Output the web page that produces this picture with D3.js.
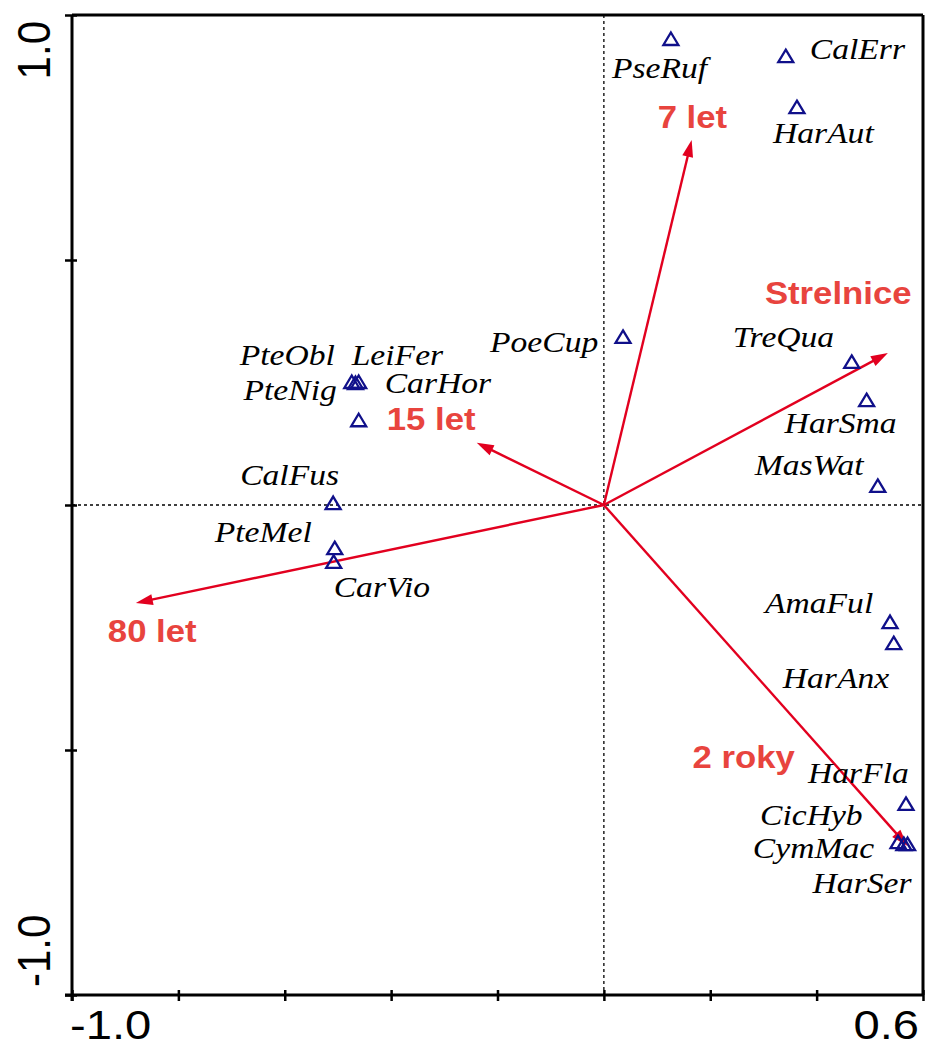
<!DOCTYPE html>
<html>
<head>
<meta charset="utf-8">
<script src="https://cdn.jsdelivr.net/npm/d3@7"></script>
<style>
  html, body { margin: 0; padding: 0; background: #fff; }
  svg { display: block; }
</style>
</head>
<body>
<svg id="chart" width="925" height="1048"></svg>
<script>
// ---- Data ----
const speciesNames = ["PseRuf","CalErr","HarAut","PoeCup","TreQua","HarSma","MasWat","AmaFul","HarAnx","HarFla","CicHyb","CymMac","HarSer","PteObl","LeiFer","PteNig","CarHor","CalFus","PteMel","CarVio"];
const speciesX = [0.126, 0.342, 0.363, 0.036, 0.466, 0.494, 0.515, 0.538, 0.545, 0.568, 0.553, 0.564, 0.571, -0.474, -0.461, -0.467, -0.461, -0.509, -0.506, -0.508];
const speciesY = [0.951, 0.916, 0.812, 0.343, 0.292, 0.214, 0.039, -0.239, -0.282, -0.610, -0.688, -0.692, -0.692, 0.251, 0.251, 0.249, 0.173, 0.004, -0.088, -0.116];

const envNames = ["7 let", "Strelnice", "15 let", "80 let", "2 roky"];
const envX = [0.165, 0.534, -0.239, -0.880, 0.571];
const envY = [0.745, 0.310, 0.127, -0.200, -0.696];

const xTicks = [-1.0, -0.8, -0.6, -0.4, -0.2, 0.0, 0.2, 0.4, 0.6];
const yTicks = [-1.0, -0.5, 0.0, 0.5, 1.0];
const xTickLabels = ["-1.0", "0.6"];
const yTickLabels = ["1.0", "-1.0"];

// ---- Layout (pixel label offsets, not data) ----
const speciesLabelDx = [-59, 24, -24, -133, -119, -82, -123, -125, -111, -98, -138, -151, -95, -112, -7, -112, 26, -93, -120, 0];
const speciesLabelDy = [39, 3, 36, 15, -15, 33, -11, -9, 45, -21, -17, 14, 49, -17, -17, 17, -27, -18, -6, 35];
const envLabelDx = [-34, -123, -90, -28, -215];
const envLabelDy = [-12, -49, -13, 39, -78];

const SX = 1.12; // horizontal stretch of the original picture

const svg = d3.select("#chart");
const x = d3.scaleLinear().domain([-1.0, 0.6]).range([72, 923]);
const y = d3.scaleLinear().domain([-1.0, 1.0]).range([995, 15]);

const navy = "#10108a";
const red = "#e2001f";
const redText = "#e8443e";

// dotted zero lines
svg.append("line").attr("x1", x(0)).attr("x2", x(0)).attr("y1", y(1)).attr("y2", y(-1))
  .attr("stroke", "#000").attr("stroke-width", 1.3).attr("stroke-dasharray", "3,3");
svg.append("line").attr("x1", x(-1)).attr("x2", x(0.6)).attr("y1", y(0)).attr("y2", y(0))
  .attr("stroke", "#000").attr("stroke-width", 1.3).attr("stroke-dasharray", "3,3");

// frame: top and right
svg.append("line").attr("x1", x(-1)).attr("x2", x(0.6)).attr("y1", y(1)).attr("y2", y(1))
  .attr("stroke", "#000").attr("stroke-width", 3);
svg.append("line").attr("x1", x(0.6)).attr("x2", x(0.6)).attr("y1", y(1)).attr("y2", y(-1))
  .attr("stroke", "#000").attr("stroke-width", 3);

// axes
const xAxis = svg.append("g").attr("transform", `translate(0,${y(-1)})`)
  .call(d3.axisBottom(x).tickValues(xTicks).tickSize(6).tickFormat(""));
xAxis.select(".domain").attr("stroke-width", 3).attr("d", `M${x(-1) - 7},0H${x(0.6)}`);
xAxis.selectAll(".tick line").attr("y1", -5).attr("y2", 6).attr("stroke-width", 2.5);

const yAxis = svg.append("g").attr("transform", `translate(${x(-1)},0)`)
  .call(d3.axisLeft(y).tickValues(yTicks).tickSize(7).tickFormat(""));
yAxis.select(".domain").attr("stroke-width", 3).attr("d", `M0,${y(1)}V${y(-1) + 6}`);
yAxis.selectAll(".tick line").attr("x1", 5).attr("x2", -7).attr("stroke-width", 2.5);

// tick labels
svg.append("text").text(xTickLabels[0])
  .attr("transform", `translate(${x(-1) - 2},1039) scale(1.18,1)`)
  .attr("font-family", "Liberation Sans, Arial, sans-serif").attr("font-size", 40).attr("text-anchor", "start");
svg.append("text").text(xTickLabels[1])
  .attr("transform", `translate(${x(0.6) - 4},1039) scale(1.18,1)`)
  .attr("font-family", "Liberation Sans, Arial, sans-serif").attr("font-size", 40).attr("text-anchor", "end");
svg.append("text").text(yTickLabels[0])
  .attr("transform", `translate(50,${y(1) + 6}) scale(${SX},1) rotate(-90)`)
  .attr("font-family", "Liberation Sans, Arial, sans-serif").attr("font-size", 42).attr("text-anchor", "end");
svg.append("text").text(yTickLabels[1])
  .attr("transform", `translate(50,${y(-1) - 8}) scale(${SX},1) rotate(-90)`)
  .attr("font-family", "Liberation Sans, Arial, sans-serif").attr("font-size", 42).attr("text-anchor", "start");

// env arrows
const env = envNames.map((n, i) => ({ name: n, x: envX[i], y: envY[i], dx: envLabelDx[i], dy: envLabelDy[i] }));
const ox = x(0), oy = y(0);
const arrows = svg.append("g");
env.forEach(d => {
  const tx = x(d.x), ty = y(d.y);
  const ang = Math.atan2(ty - oy, tx - ox);
  const L = 17, W = 5.5;
  const bx = tx - L * Math.cos(ang), by = ty - L * Math.sin(ang);
  arrows.append("line").attr("x1", ox).attr("y1", oy).attr("x2", bx + 2 * Math.cos(ang)).attr("y2", by + 2 * Math.sin(ang))
    .attr("stroke", red).attr("stroke-width", 2.4);
  const px = -Math.sin(ang), py = Math.cos(ang);
  arrows.append("path")
    .attr("d", `M${tx},${ty}L${bx + W * px},${by + W * py}L${bx - W * px},${by - W * py}Z`)
    .attr("fill", red);
  arrows.append("text").text(d.name)
    .attr("transform", `translate(${tx + d.dx},${ty + d.dy}) scale(${SX},1)`)
    .attr("font-family", "Liberation Sans, Arial, sans-serif").attr("font-weight", "bold")
    .attr("font-size", 31).attr("fill", redText);
});

// species
const species = speciesNames.map((n, i) => ({ name: n, x: speciesX[i], y: speciesY[i], dx: speciesLabelDx[i], dy: speciesLabelDy[i] }));
const sp = svg.append("g");
sp.selectAll("path").data(species).join("path")
  .attr("transform", d => `translate(${x(d.x)},${y(d.y)})`)
  .attr("d", "M0,-6.5L7.5,6L-7.5,6Z")
  .attr("fill", "none").attr("stroke", navy).attr("stroke-width", 2.3).attr("stroke-linejoin", "miter");
sp.selectAll("text").data(species).join("text")
  .text(d => d.name)
  .attr("transform", d => `translate(${x(d.x) + d.dx},${y(d.y) + d.dy}) scale(${SX},1)`)
  .attr("font-family", "Liberation Serif, Times New Roman, serif").attr("font-style", "italic")
  .attr("font-size", 30).attr("fill", "#000");
</script>
</body>
</html>
